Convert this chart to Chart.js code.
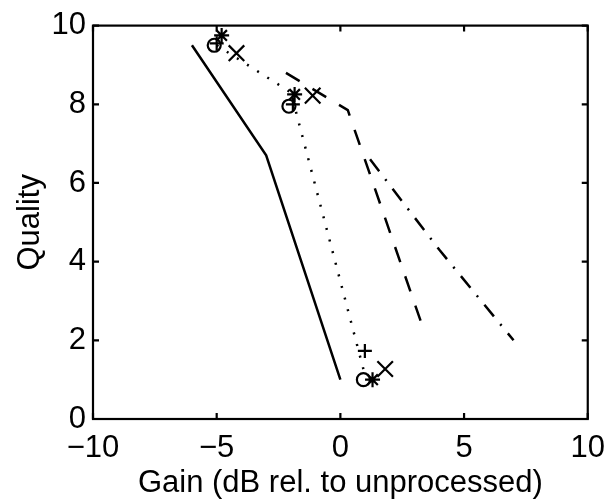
<!DOCTYPE html>
<html>
<head>
<meta charset="utf-8">
<script src="https://cdn.jsdelivr.net/npm/chart.js@4/dist/chart.umd.min.js"></script>
<style>
  html, body { margin: 0; padding: 0; background: #fff; }
  #wrap { width: 616px; height: 500px; }
</style>
</head>
<body>
<div id="wrap"><canvas id="qualityChart" width="616" height="500"></canvas></div>
<script>
// axis ticks
const xTicks = [-10, -5, 0, 5, 10];
const xTickLabels = ['\u221210', '\u22125', '0', '5', '10'];
const yTicks = [0, 2, 4, 6, 8, 10];

// model curves (gain, quality)
const solidX = [-6.0, -3.0, 0.0];
const solidY = [9.5, 6.7, 1.0];
const dottedX = [-5.0, -2.0, 1.0];
const dottedY = [9.5, 8.3, 1.1];
const dashedX = [-2.2, 0.3, 3.35];
const dashedY = [8.8, 7.85, 2.3];
const dashDotX = [1.2, 4.0, 7.0];
const dashDotY = [6.6, 4.3, 2.0];

// measured points
const circleX = [-5.1, -2.08, 0.93];
const circleY = [9.5, 7.95, 1.0];
const plusX = [-5.0, -1.92, 0.99];
const plusY = [9.55, 8.0, 1.73];
const starX = [-4.8, -1.85, 1.3];
const starY = [9.75, 8.25, 1.0];
const crossX = [-4.2, -1.12, 1.81];
const crossY = [9.3, 8.22, 1.27];

const pts = (xs, ys) => xs.map((x, i) => ({ x: x, y: ys[i] }));

function lineSet(xs, ys, dash) {
    return {
        data: pts(xs, ys),
        showLine: true,
        borderColor: '#000',
        borderWidth: 2.5,
        borderDash: dash,
        pointRadius: 0,
        fill: false,
    };
}

function markerSet(xs, ys, style, r) {
    return {
        data: pts(xs, ys),
        showLine: false,
        pointStyle: style,
        pointRadius: r,
        borderColor: '#000',
        backgroundColor: 'rgba(0,0,0,0)',
        pointBorderWidth: 2.2,
        clip: false,
    };
}

// box round the plot with inward tick marks, like the original figure
const framePlugin = {
    id: 'frame',
    afterDatasetsDraw(chart) {
        const { ctx, chartArea: a, scales } = chart;
        const len = 6;
        ctx.save();
        ctx.strokeStyle = '#000';
        ctx.lineWidth = 2.2;
        ctx.strokeRect(a.left, a.top, a.right - a.left, a.bottom - a.top);
        ctx.beginPath();
        scales.x.ticks.forEach(t => {
            const px = scales.x.getPixelForValue(t.value);
            ctx.moveTo(px, a.bottom); ctx.lineTo(px, a.bottom - len);
            ctx.moveTo(px, a.top); ctx.lineTo(px, a.top + len);
        });
        scales.y.ticks.forEach(t => {
            const py = scales.y.getPixelForValue(t.value);
            ctx.moveTo(a.left, py); ctx.lineTo(a.left + len, py);
            ctx.moveTo(a.right, py); ctx.lineTo(a.right - len, py);
        });
        ctx.stroke();
        ctx.restore();
    }
};

const font = { family: '"Liberation Sans", Arial, Helvetica, sans-serif', size: 31 };

new Chart(document.getElementById('qualityChart').getContext('2d'), {
    type: 'scatter',
    data: {
        datasets: [
            lineSet(solidX, solidY, []),
            lineSet(dottedX, dottedY, [2, 10]),
            lineSet(dashedX, dashedY, [16, 15]),
            lineSet(dashDotX, dashDotY, [15, 10, 2, 10]),
            markerSet(circleX, circleY, 'circle', 6.5),
            markerSet(plusX, plusY, 'cross', 7),
            markerSet(starX, starY, 'star', 7.5),
            markerSet(crossX, crossY, 'crossRot', 11),
        ]
    },
    options: {
        responsive: false,
        animation: false,
        layout: { padding: { left: 0, right: 19, top: 21, bottom: 0 } },
        plugins: { legend: { display: false }, tooltip: { enabled: false } },
        scales: {
            x: {
                type: 'linear',
                min: -10, max: 10,
                afterBuildTicks: s => { s.ticks = xTicks.map(v => ({ value: v })); },
                afterFit: s => { s.height = 81; },
                grid: { display: false, drawTicks: false },
                border: { display: false },
                ticks: {
                    color: '#000', font: font, padding: 11,
                    maxRotation: 0, autoSkip: false,
                    callback: v => xTickLabels[xTicks.indexOf(v)]
                },
                title: {
                    display: true, text: 'Gain (dB rel. to unprocessed)',
                    color: '#000', font: font, padding: { top: 0, bottom: -2 }
                }
            },
            y: {
                type: 'linear',
                min: 0, max: 10,
                afterBuildTicks: s => { s.ticks = yTicks.map(v => ({ value: v })); },
                afterFit: s => { s.width = 93; },
                grid: { display: false, drawTicks: false },
                border: { display: false },
                ticks: { color: '#000', font: font, padding: 7, autoSkip: false },
                title: {
                    display: true, text: 'Quality',
                    color: '#000', font: font, padding: { top: 12, bottom: 0 }
                }
            }
        }
    },
    plugins: [framePlugin]
});
</script>
</body>
</html>
